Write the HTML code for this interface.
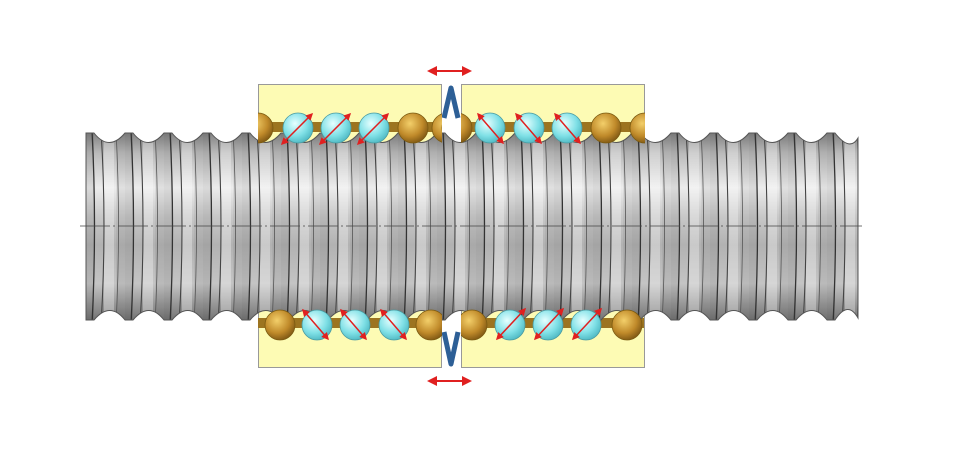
<!DOCTYPE html>
<html><head><meta charset="utf-8"><style>html,body{margin:0;padding:0;background:#fff}svg{display:block}</style></head>
<body>
<svg width="960" height="468" viewBox="0 0 960 468" xmlns="http://www.w3.org/2000/svg">
<defs>
<linearGradient id="scr" x1="0" y1="130" x2="0" y2="322" gradientUnits="userSpaceOnUse">
<stop offset="0" stop-color="#7a7a7a"/><stop offset="0.12" stop-color="#bababa"/>
<stop offset="0.3" stop-color="#ececec"/><stop offset="0.45" stop-color="#c8c8c8"/>
<stop offset="0.6" stop-color="#b2b2b2"/><stop offset="0.8" stop-color="#c4c4c4"/>
<stop offset="1" stop-color="#707070"/></linearGradient>
<pattern id="thr" x="86" y="0" width="39" height="468" patternUnits="userSpaceOnUse">
<rect x="0" y="0" width="39" height="468" fill="url(#scr)"/>
<rect x="0" y="0" width="8" height="468" fill="#000" opacity="0.08"/>
<rect x="18" y="0" width="10" height="468" fill="#fff" opacity="0.3"/>
<rect x="30" y="0" width="9" height="468" fill="#000" opacity="0.05"/>
<path d="M6 130 Q11 226 6 325" stroke="#333" stroke-width="1.3" fill="none"/>
<path d="M15 130 Q21 226 15 325" stroke="#444" stroke-width="1.1" fill="none"/>
<path d="M30 130 Q35 226 30 325" stroke="#555" stroke-width="0.8" fill="none"/>
</pattern>
<radialGradient id="cy" cx="0.4" cy="0.35" r="0.7"><stop offset="0" stop-color="#e6ffff"/><stop offset="0.6" stop-color="#7fe0e6"/><stop offset="1" stop-color="#4bb5c0"/></radialGradient>
<radialGradient id="br" cx="0.4" cy="0.35" r="0.7"><stop offset="0" stop-color="#f3cf6a"/><stop offset="0.6" stop-color="#c08a2a"/><stop offset="1" stop-color="#7a5412"/></radialGradient>
<marker id="ah" viewBox="0 0 10 10" refX="8" refY="5" markerWidth="5" markerHeight="5" orient="auto-start-reverse"><path d="M0 0L10 5L0 10z" fill="#e02020"/></marker>
<clipPath id="nc"><rect x="258" y="84" width="184" height="284"/><rect x="461" y="84" width="184" height="284"/></clipPath>
</defs>
<rect x="258.5" y="84.5" width="183" height="283" fill="#fdfbb4" stroke="#999"/>
<rect x="461.5" y="84.5" width="183" height="283" fill="#fdfbb4" stroke="#999"/>
<rect x="258" y="122" width="386" height="10" fill="#9c7420"/>
<rect x="258" y="318" width="386" height="10" fill="#9c7420"/>
<rect x="442" y="84" width="19" height="60" fill="#fff"/>
<rect x="442" y="312" width="19" height="56" fill="#fff"/>
<path d="M86 133 L94 133 Q109 152 125 133 L133 133 Q148 152 164 133 L172 133 Q187 152 203 133 L211 133 Q226 152 242 133 L250 133 Q265 152 281 133 L289 133 Q304 152 320 133 L328 133 Q343 152 359 133 L367 133 Q382 152 398 133 L406 133 Q421 152 437 133 L445 133 Q460 152 476 133 L484 133 Q499 152 515 133 L523 133 Q538 152 554 133 L562 133 Q577 152 593 133 L601 133 Q616 152 632 133 L640 133 Q655 152 671 133 L679 133 Q694 152 710 133 L718 133 Q733 152 749 133 L757 133 Q772 152 788 133 L796 133 Q811 152 827 133 L835 133 Q850 152 858 138
L858 318 Q848 300 835 320 L827 320 Q812 301 796 320 L788 320 Q773 301 757 320 L749 320 Q734 301 718 320 L710 320 Q695 301 679 320 L671 320 Q656 301 640 320 L632 320 Q617 301 601 320 L593 320 Q578 301 562 320 L554 320 Q539 301 523 320 L515 320 Q500 301 484 320 L476 320 Q461 301 445 320 L437 320 Q422 301 406 320 L398 320 Q383 301 367 320 L359 320 Q344 301 328 320 L320 320 Q305 301 289 320 L281 320 Q266 301 250 320 L242 320 Q227 301 211 320 L203 320 Q188 301 172 320 L164 320 Q149 301 133 320 L125 320 Q110 301 94 320 L86 320 Z" fill="url(#thr)" stroke="#555" stroke-width="1"/>
<line x1="80" y1="226" x2="862" y2="226" stroke="#444" stroke-width="0.8" stroke-dasharray="30,3,2,3"/>
<path d="M444 118 L451 88 L458 118" fill="none" stroke="#2d5f96" stroke-width="5" stroke-linejoin="round"/>
<path d="M444 332 L451 364 L458 332" fill="none" stroke="#2d5f96" stroke-width="5" stroke-linejoin="round"/>
<g stroke="#7a5a10" stroke-width="0.8" clip-path="url(#nc)" fill="url(#br)">
<circle cx="258" cy="128" r="15"/>
<circle cx="413" cy="128" r="15"/>
<circle cx="447" cy="128" r="15"/>
<circle cx="457" cy="128" r="15"/>
<circle cx="606" cy="128" r="15"/>
<circle cx="645" cy="128" r="15"/>
<circle cx="280" cy="325" r="15"/>
<circle cx="431" cy="325" r="15"/>
<circle cx="472" cy="325" r="15"/>
<circle cx="627" cy="325" r="15"/>
</g>
<g stroke="#4a9aa0" stroke-width="0.8" fill="url(#cy)">
<circle cx="298" cy="128" r="15"/><circle cx="336" cy="128" r="15"/><circle cx="374" cy="128" r="15"/>
<circle cx="490" cy="128" r="15"/><circle cx="529" cy="128" r="15"/><circle cx="567" cy="128" r="15"/>
<circle cx="317" cy="325" r="15"/><circle cx="355" cy="325" r="15"/><circle cx="394" cy="325" r="15"/>
<circle cx="510" cy="325" r="15"/><circle cx="548" cy="325" r="15"/><circle cx="586" cy="325" r="15"/>
</g>
<g stroke="#e02020" stroke-width="1.5" marker-start="url(#ah)" marker-end="url(#ah)">
<line x1="282" y1="144" x2="312" y2="114"/><line x1="320" y1="144" x2="350" y2="114"/><line x1="358" y1="144" x2="388" y2="114"/>
<line x1="478" y1="114" x2="503" y2="143"/><line x1="516" y1="114" x2="541" y2="143"/><line x1="555" y1="114" x2="580" y2="143"/>
<line x1="303" y1="310" x2="328" y2="339"/><line x1="341" y1="310" x2="366" y2="339"/><line x1="381" y1="310" x2="406" y2="339"/>
<line x1="497" y1="339" x2="525" y2="309"/><line x1="535" y1="339" x2="563" y2="309"/><line x1="573" y1="339" x2="601" y2="309"/>
</g>
<g stroke="#e02020" stroke-width="2" marker-start="url(#ah)" marker-end="url(#ah)">
<line x1="429" y1="71" x2="470" y2="71"/><line x1="429" y1="381" x2="470" y2="381"/>
</g>
</svg>
</body></html>
